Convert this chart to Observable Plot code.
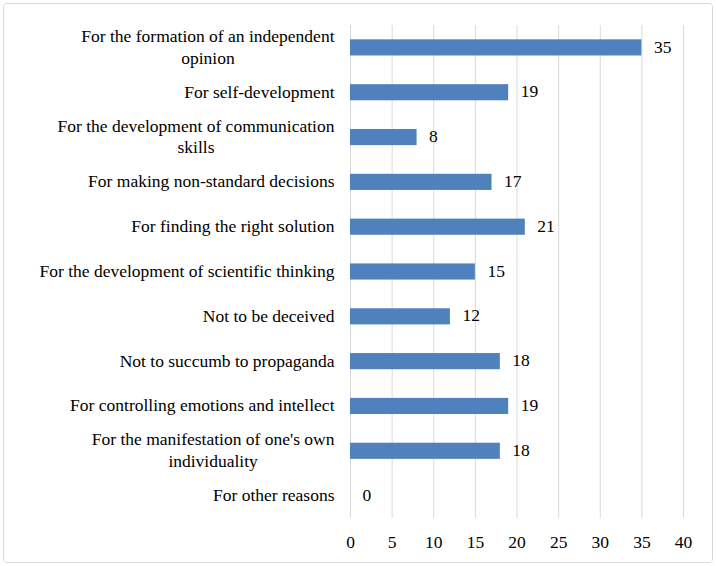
<!DOCTYPE html>
<html>
<head>
<meta charset="utf-8">
<script src="https://cdn.jsdelivr.net/npm/d3@7"></script>
<script src="https://cdn.jsdelivr.net/npm/@observablehq/plot@0.6"></script>
<style>
  body { margin: 0; background: #fff; }
  #chart { position: absolute; left: 3px; top: 3px; width: 708px; height: 558px; border: 1px solid #d9d9d9; border-radius: 4px; background: #fff; overflow: hidden; }
  #chart svg { display: block; }
  #chart svg, #chart svg text, #chart svg tspan { font-family: "Liberation Serif", "Times New Roman", serif !important; }
</style>
</head>
<body>
<div id="chart"></div>
<script>
const categories = [
  "For the formation of an independent\nopinion",
  "For self-development",
  "For the development of communication\nskills",
  "For making non-standard decisions",
  "For finding the right solution",
  "For the development of scientific thinking",
  "Not to be deceived",
  "Not to succumb to propaganda",
  "For controlling emotions and intellect",
  "For the manifestation of one's own\nindividuality",
  "For other reasons"
];
const values = [35, 19, 8, 17, 21, 15, 12, 18, 19, 18, 0];
const xTicks = [0, 5, 10, 15, 20, 25, 30, 35, 40];

const data = categories.map((c, i) => ({category: c, value: values[i]}));
const font = "Liberation Serif";
const fs = 17.5;

const chart = Plot.plot({
  width: 708,
  height: 558,
  marginLeft: 346,
  marginRight: 29,
  marginTop: 21,
  marginBottom: 44,
  style: {fontFamily: font, fontSize: fs + "px", color: "#000", background: "#fff"},
  x: {domain: [0, 40], ticks: xTicks},
  y: {domain: categories, paddingInner: 0.64, paddingOuter: 0.32, round: false},
  marks: [
    Plot.gridX(xTicks, {stroke: "#d9d9d9", strokeOpacity: 1, strokeWidth: 1}),
    Plot.barX(data, {x: "value", y: "category", fill: "#4f81bd"}),
    Plot.text(data, {x: "value", y: "category", text: d => String(d.value), dx: 12, dy: -1, textAnchor: "start", fontSize: fs, fontFamily: font, fill: "#000"}),
    Plot.axisX({ticks: xTicks, tickSize: 0, tickPadding: 17, label: null, fontSize: fs, fontFamily: font, fill: "#000"}),
    Plot.axisY({tickSize: 0, tickPadding: 16, dy: -2, label: null, fontSize: fs, fontFamily: font, fill: "#000", lineHeight: 1.25, lineWidth: 100})
  ]
});
document.getElementById("chart").appendChild(chart);

// Center wrapped lines relative to each other (block stays right-aligned)
chart.querySelectorAll("g[aria-label='y-axis tick label'] text").forEach(t => {
  const spans = Array.from(t.querySelectorAll("tspan"));
  if (spans.length < 2) return;
  const widths = spans.map(s => s.getComputedTextLength());
  const maxW = Math.max(...widths);
  spans.forEach(s => {
    s.setAttribute("x", String(-maxW / 2));
    s.setAttribute("text-anchor", "middle");
  });
});
</script>
</body>
</html>
